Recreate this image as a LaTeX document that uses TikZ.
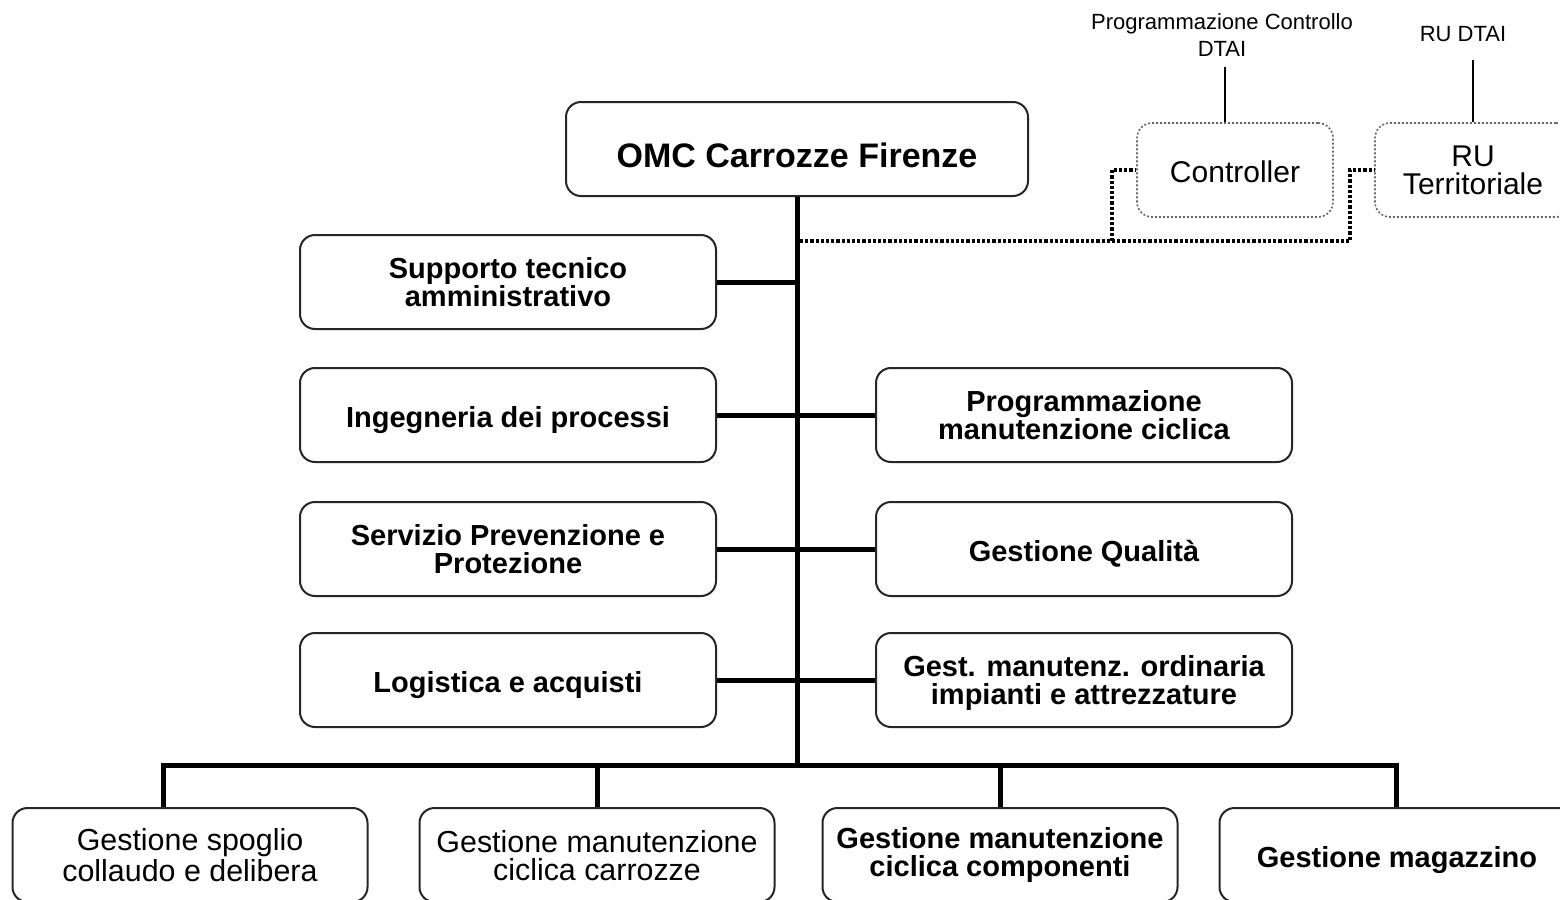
\documentclass[tikz,border=0pt]{standalone}
\usepackage{fontspec}
\setmainfont{Liberation Sans}
\usepackage{tikz}

\begin{document}
\begin{tikzpicture}
    [x=0.5pt, y=-0.5pt,
     Node/.style={rectangle, rounded corners=7.5pt, draw=black!85, line width=1pt, fill=white,
       minimum width=208pt, minimum height=47pt, align=center, inner sep=2pt,
       font=\fontsize{14.5}{14}\selectfont\bfseries},
     Single/.style={text height=12.5pt, text depth=0pt},
     Top/.style={Node, minimum width=231pt, text height=18pt, text depth=0pt,
       font=\fontsize{17}{20}\selectfont\bfseries},
     Low/.style={Node, minimum width=177.5pt},
     Plain/.style={font=\fontsize{15.2}{14}\selectfont},
     Staff/.style={Node, draw=black!60, densely dotted, line width=0.8pt, minimum width=98pt,
       font=\fontsize{15}{14}\selectfont},
     Label/.style={align=center, inner sep=1pt, font=\fontsize{11}{13.5}\selectfont},
     Line/.style={line width=2.5pt},
     Dots/.style={line width=1.6pt, densely dotted},
     Thin/.style={line width=1pt}]
	\useasboundingbox[fill=white] (0,0) rectangle (1560,900);
	% top of the chart
	\node[Top] (O-OMC) at (797,149) {OMC Carrozze Firenze};
	\node[Staff, Single] (S-Controller) at (1235,170) {Controller};
	\node[Staff] (S-RU) at (1473,170) {RU\\Territoriale};
	\node[Label] (L-Controllo) at (1222,35) {Programmazione Controllo\\DTAI};
	\node[Label] (L-RU) at (1463,34) {RU DTAI};
	% staff units
	\node[Node] (O-Supporto) at (508,282) {Supporto tecnico\\amministrativo};
	\node[Node, Single] (O-Ingegneria) at (508,415) {Ingegneria dei processi};
	\node[Node] (O-Servizio) at (508,549) {Servizio Prevenzione e\\Protezione};
	\node[Node, Single] (O-Logistica) at (508,680) {Logistica e acquisti};
	\node[Node] (O-Programmazione) at (1084,415) {Programmazione\\manutenzione ciclica};
	\node[Node, Single] (O-Qualita) at (1084,549) {Gestione Qualità};
	\node[Node, text depth=0pt] (O-Impianti) at (1084,680) {Gest. manutenz. ordinaria\\impianti e attrezzature};
	% line units
	\node[Low, Plain, text depth=0pt] (B-Spoglio) at (190,855) {Gestione spoglio\\collaudo e delibera};
	\node[Low, Plain, text depth=0pt] (B-Carrozze) at (597,855) {Gestione manutenzione\\ciclica carrozze};
	\node[Low] (B-Componenti) at (1000,855) {Gestione manutenzione\\ciclica componenti};
	\node[Low, Single] (B-Magazzino) at (1397,855) {Gestione magazzino};
	\coordinate (T-Bottom) at (797,765);
	\coordinate (T-Left) at (163,765);
	\coordinate (T-Right) at (1396,765);
	\coordinate (T-Dots) at (800,241);
	\coordinate (K-Controller) at (1112,241);
	\coordinate (K-RU) at (1350,241);
	% connectors
	\draw[Line] (O-OMC.south) -- (T-Bottom);
	\draw[Line] (O-Supporto.east) -- (O-Supporto.east -| T-Bottom);
	\draw[Line] (O-Ingegneria.east) -- (O-Programmazione.west);
	\draw[Line] (O-Servizio.east) -- (O-Qualita.west);
	\draw[Line] (O-Logistica.east) -- (O-Impianti.west);
	\draw[Line] (B-Spoglio.north -| T-Left) -- (T-Left) -- (T-Right) -- (B-Magazzino.north -| T-Right);
	\draw[Line] (B-Carrozze.north) -- (B-Carrozze.north |- T-Left);
	\draw[Line] (B-Componenti.north) -- (B-Componenti.north |- T-Left);
	\draw[Dots] (T-Dots) -- (K-RU) |- (S-RU.west);
	\draw[Dots] (K-Controller) |- (S-Controller.west);
	\draw[Thin] ([shift={(1.5pt,-4pt)}]L-Controllo.south) -- ([xshift=1.5pt]L-Controllo.south |- S-Controller.north);
	\draw[Thin] ([yshift=-8pt]L-RU.south -| S-RU.north) -- (S-RU.north);
\end{tikzpicture}
\end{document}
